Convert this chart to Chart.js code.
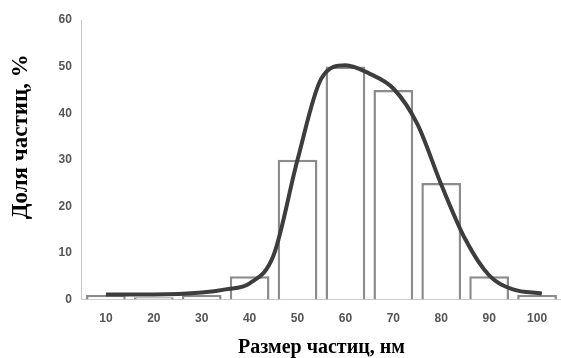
<!DOCTYPE html>
<html>
<head>
<meta charset="utf-8">
<script src="https://cdn.jsdelivr.net/npm/chart.js@4"></script>
<style>
  html, body { margin: 0; padding: 0; background: #fff; }
  #wrap { width: 561px; height: 358px; }
</style>
</head>
<body>
<div id="wrap"><canvas id="myChart" width="561" height="358"></canvas></div>
<script>
// размеры частиц, нм
const sizes = ['10', '20', '30', '40', '50', '60', '70', '80', '90', '100'];
// доля частиц, % (гистограмма)
const shares = [1, 0.5, 1, 5, 30, 50, 45, 25, 5, 1];
// сглаженная кривая распределения (читалась с картинки)
const curveX = [10, 20, 30, 35, 40, 45, 50, 55, 60, 65, 70, 75, 80, 85, 90, 95, 101];
const curveY = [1.1, 1.1, 1.5, 2.2, 3.5, 9.5, 30, 47.5, 50.3, 48.5, 45.3, 37.7, 24.7, 13, 5.2, 2.2, 1.3];
const yTicks = [0, 10, 20, 30, 40, 50, 60];

const curvePoints = curveX.map((x, i) => ({ x: x, y: curveY[i] }));

const ctx = document.getElementById('myChart');
new Chart(ctx, {
  type: 'bar',
  data: {
    labels: sizes,
    datasets: [{
      type: 'line',
      label: 'curve',
      data: curvePoints,
      xAxisID: 'xLine',
      borderColor: '#3d3d3d',
      borderWidth: 4,
      pointRadius: 0,
      fill: false,
      cubicInterpolationMode: 'monotone',
      order: 0
    }, {
      label: 'shares',
      data: shares,
      backgroundColor: '#ffffff',
      borderColor: '#8c8c8c',
      borderWidth: 2.5,
      barPercentage: 0.83,
      categoryPercentage: 1,
      grouped: false,
      order: 1
    }]
  },
  options: {
    responsive: false,
    animation: false,
    layout: { padding: { left: 7, right: 0, top: 20, bottom: 0 } },
    plugins: {
      legend: { display: false },
      tooltip: { enabled: false }
    },
    scales: {
      x: {
        offset: true,
        grid: { display: false, drawTicks: false },
        border: { color: '#c8c8c8', width: 1 },
        ticks: {
          color: '#555555',
          font: { family: 'Liberation Sans', size: 12, weight: 'bold' },
          padding: 12
        },
        title: {
          display: true,
          text: 'Размер частиц, нм',
          color: '#000',
          font: { family: 'Liberation Serif', size: 20, weight: 'bold', lineHeight: 1 },
          padding: { top: 0, bottom: 0 }
        }
      },
      xLine: {
        type: 'linear',
        display: false,
        offset: false,
        min: 5,
        max: 105
      },
      y: {
        min: 0,
        max: 60,
        afterBuildTicks: axis => { axis.ticks = yTicks.map(v => ({ value: v })); },
        grid: { display: false, drawTicks: true, tickLength: 4, color: '#c8c8c8' },
        border: { color: '#c8c8c8', width: 1 },
        ticks: {
          color: '#555555',
          font: { family: 'Liberation Sans', size: 12, weight: 'bold' },
          padding: 6
        },
        title: {
          display: true,
          text: '        Доля частиц, %',
          color: '#000',
          font: { family: 'Liberation Serif', size: 23, weight: 'bold' },
          padding: { top: 0, bottom: 18 }
        }
      }
    }
  }
});
</script>
</body>
</html>
